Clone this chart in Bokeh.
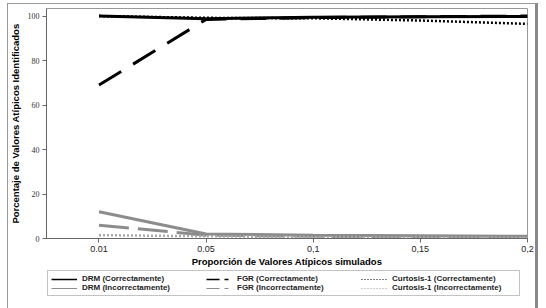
from bokeh.plotting import figure
from bokeh.models import Range1d, FixedTicker, Legend, LegendItem
from bokeh.layouts import column
from bokeh.embed import file_html
from bokeh.resources import INLINE

# ---- data ----
proporciones = ["0.01", "0.05", "0,1", "0,15", "0,2"]
x_pos = [0, 1, 2, 3, 4]

drm_correct = [100, 98.8, 99.5, 99.7, 99.8]
fgr_correct = [69, 98.5, 99.3, 99.7, 100]
curt_correct = [100, 99.2, 99.0, 98.0, 96.5]

drm_incorrect = [12, 2.0, 1.5, 1.2, 1.0]
fgr_incorrect = [6, 1.5, 1.0, 0.6, 0.5]
curt_incorrect = [1.5, 1.0, 0.6, 0.4, 0.3]

y_ticks = [0, 20, 40, 60, 80, 100]

series_labels = ["DRM (Correctamente)", "DRM (Incorrectamente)",
                 "FGR (Correctamente)", "FGR (Incorrectamente)",
                 "Curtosis-1 (Correctamente)", "Curtosis-1 (Incorrectamente)"]

GRAY = "#8c8c8c"
styles = [
    dict(line_color="black", line_width=3),
    dict(line_color=GRAY, line_width=3),
    dict(line_color="black", line_width=3, line_dash="26 14"),
    dict(line_color=GRAY, line_width=3, line_dash="30 9"),
    dict(line_color="black", line_width=2.5, line_dash="2 2"),
    dict(line_color="#aaaaaa", line_width=2.5, line_dash="2 2"),
]
legend_styles = [
    dict(line_color="black", line_width=1.5),
    dict(line_color=GRAY, line_width=1),
    dict(line_color="black", line_width=1.5, line_dash="13 5 4 5"),
    dict(line_color=GRAY, line_width=1, line_dash="13 5 4 5"),
    dict(line_color="black", line_width=1, line_dash="1 2"),
    dict(line_color="#999999", line_width=1, line_dash="1 2"),
]
series = [drm_correct, drm_incorrect, fgr_correct, fgr_incorrect,
          curt_correct, curt_incorrect]

p = figure(width=546, height=270, output_backend="svg", toolbar_location=None,
           x_range=Range1d(-0.49, 4.0), y_range=Range1d(0, 103.4),
           min_border_left=46, min_border_right=19, min_border_top=8,
           min_border_bottom=32)
p.grid.visible = False
p.outline_line_color = "#999999"
p.outline_line_width = 1
p.background_fill_color = None
p.border_fill_color = None

for ys, st in zip(series, styles):
    p.line(x_pos, ys, **st)

# axes
p.xaxis.ticker = FixedTicker(ticks=x_pos)
p.xaxis.major_label_overrides = {i: lab for i, lab in zip(x_pos, proporciones)}
p.xaxis.axis_label = "Proporción de Valores Atípicos simulados"
p.yaxis.ticker = FixedTicker(ticks=y_ticks)
p.yaxis.axis_label = "Porcentaje de Valores Atípicos Identificados"

for ax in (p.xaxis[0], p.yaxis[0]):
    ax.axis_line_color = "#666666"
    ax.major_tick_line_color = "#666666"
    ax.minor_tick_line_color = None
    ax.major_tick_in = 0
    ax.major_tick_out = 4
    ax.axis_label_text_font = "Liberation Sans"
    ax.axis_label_text_font_style = "bold"
    ax.axis_label_text_font_size = "9.5px"
    ax.axis_label_text_color = "black"

p.xaxis.major_label_text_font = "Liberation Sans"
p.xaxis.major_label_text_font_size = "9px"
p.xaxis.major_label_text_color = "#222222"
p.xaxis.major_label_standoff = 3
p.xaxis.axis_label_standoff = 1

p.yaxis.major_label_text_font = "Liberation Serif"
p.yaxis.major_label_text_font_size = "8px"
p.yaxis.major_label_text_color = "#333333"
p.yaxis.major_label_standoff = 3
p.yaxis.axis_label_standoff = 4

# legend strip (separate figure directly below; its lines lie outside its view)
leg = figure(width=546, height=38, output_backend="svg", toolbar_location=None,
             x_range=Range1d(100, 101), y_range=Range1d(0, 1),
             min_border=0, min_border_left=0, min_border_right=0,
             min_border_top=0, min_border_bottom=0)
leg.axis.visible = False
leg.grid.visible = False
leg.outline_line_color = None
leg.background_fill_color = None
leg.border_fill_color = None

items = []
for lab, ys, st in zip(series_labels, series, legend_styles):
    r = leg.line(x_pos, ys, **st)
    items.append(LegendItem(label=lab, renderers=[r]))

legend = Legend(items=items, orientation="vertical", nrows=2)
legend.label_text_font = "Liberation Sans"
legend.label_text_font_size = "8px"
legend.label_text_font_style = "bold"
legend.label_text_color = "#222222"
legend.label_height = 8
legend.label_width = 124
legend.glyph_height = 8
legend.glyph_width = 26
legend.label_standoff = 5
legend.spacing = 0
legend.padding = 3
legend.margin = 0
legend.border_line_color = "#888888"
legend.border_line_width = 1
legend.background_fill_color = "white"
legend.location = (1, 12)
leg.add_layout(legend, "center")

layout = column(p, leg, spacing=0)
layout.styles = {
    "background": ("linear-gradient(#999,#999) 7px 3px / 1px 305px no-repeat, "
                   "linear-gradient(#999,#999) 7px 3px / 530px 1px no-repeat, "
                   "linear-gradient(#888,#888) 535px 3px / 3px 305px no-repeat, white"),
}

open("out.html", "w").write(file_html(layout, INLINE))
